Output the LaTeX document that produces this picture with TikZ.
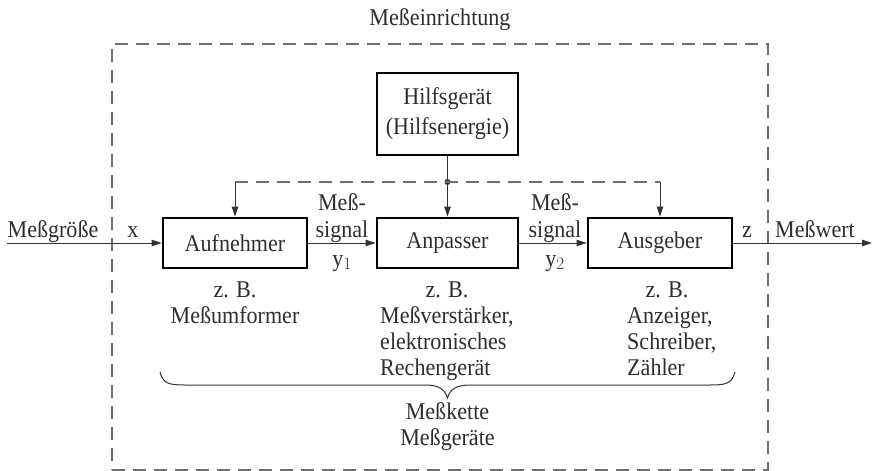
\documentclass[tikz,border=0pt]{standalone}
\usepackage{fontspec}
\setmainfont{Liberation Serif}[FakeStretch=0.92]
\usetikzlibrary{arrows.meta}
\definecolor{txtc}{HTML}{2E2E2E}
\definecolor{linec}{HTML}{333333}
\definecolor{dashc}{HTML}{6E6E6E}
\begin{document}
\begin{tikzpicture}[x=1pt,y=-1pt,
  txt/.style={font=\fontsize{24}{26}\selectfont, text=txtc, inner sep=0pt, anchor=base},
  txtl/.style={txt, anchor=base west},
  blk/.style={draw=black, line width=2.8pt, minimum width=#1, minimum height=50pt,
     inner sep=0pt, font=\fontsize{24}{30}\selectfont, text=txtc, align=center},
  arr/.style={-{Triangle[length=10pt,width=6.5pt]}, line width=1pt, draw=linec},
  thinl/.style={line width=1pt, draw=linec},
  dsh/.style={dash pattern=on 13pt off 8pt, line width=1.3pt, draw=dashc}
]
\useasboundingbox (0,0) rectangle (873,471);

% outer dashed frame
\node[dsh, minimum width=656pt, minimum height=426pt, inner sep=0pt] (outer) at (440,257) {};
\node[txt] (title) at (440,25) {Meßeinrichtung};

% blocks
\node[blk=144pt] (auf) at (235,243) {Aufnehmer};
\node[blk=141pt] (anp) at (447.5,243) {Anpasser};
\node[blk=144pt] (aus) at (660,243) {Ausgeber};
\node[blk=141pt, minimum height=82pt] (hil) at (447.5,114) {Hilfsgerät\\(Hilfsenergie)};

% auxiliary energy distribution
\node[circle, fill=linec, inner sep=0pt, minimum size=6pt] (dot) at (447.5,182) {};
\coordinate (lc) at (235,182);
\coordinate (rc) at (660,182);
\draw[thinl] (hil.south) -- (dot);
\draw[dsh] (lc) -- (rc);
\draw[arr] (lc) -- (auf.north);
\draw[arr] (dot) -- (anp.north);
\draw[arr] (rc) -- (aus.north);

% main signal path
\coordinate (in) at (7,243);
\coordinate (out) at (872,243);
\draw[arr] (in) -- (auf.west);
\draw[arr] (auf.east) -- (anp.west);
\draw[arr] (anp.east) -- (aus.west);
\draw[arr] (aus.east) -- (out);

% signal labels
\node[txt] (lin) at (53,237) {Meßgröße};
\node[txt] (lx) at (133,237) {x};
\node[txt] (m1a) at (342,210) {Meß-};
\node[txt] (m1b) at (342,237) {signal};
\node[txt] (m1c) at (342,266) {y$_1$};
\node[txt] (m2a) at (555,210) {Meß-};
\node[txt] (m2b) at (555,237) {signal};
\node[txt] (m2c) at (555,266) {y$_2$};
\node[txt] (lz) at (747,237) {z};
\node[txt] (lout) at (815,237) {Meßwert};

% examples
\node[txt] (zb1) at (235,297) {z. B.};
\node[txt] (e1a) at (235,323) {Meßumformer};
\node[txt] (zb2) at (447,297) {z. B.};
\node[txtl] (e2a) at (380,323) {Meßverstärker,};
\node[txtl] (e2b) at (380,349) {elektronisches};
\node[txtl] (e2c) at (380,375) {Rechengerät};
\node[txt] (zb3) at (667,297) {z. B.};
\node[txtl] (e3a) at (627,323) {Anzeiger,};
\node[txtl] (e3b) at (627,349) {Schreiber,};
\node[txtl] (e3c) at (627,375) {Zähler};

% brace
\draw[thinl] (160,372) .. controls (163,384) and (170,385) .. (185,385) -- (425,385)
  .. controls (440,385) and (445,390) .. (447.5,398)
  .. controls (450,390) and (455,385) .. (470,385) -- (710,385)
  .. controls (725,385) and (732,384) .. (735,372);
\node[txt] (k1) at (447.5,419) {Meßkette};
\node[txt] (k2) at (447.5,445) {Meßgeräte};
\end{tikzpicture}
\end{document}
